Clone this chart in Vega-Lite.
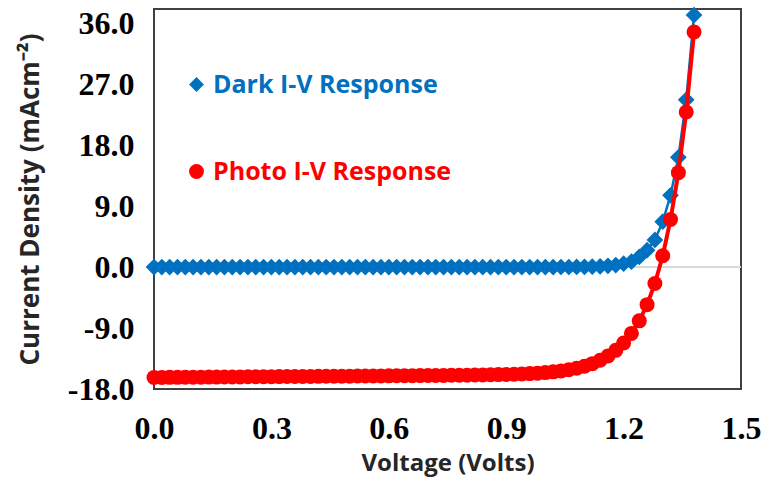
{
  "$schema": "https://vega.github.io/schema/vega-lite/v6.json",
  "autosize": {"type": "none"},
  "padding": {"left": 154, "top": 9, "right": 28, "bottom": 97},
  "width": 587,
  "height": 380,
  "background": "white",
  "config": {
    "view": {"stroke": "#404040", "strokeWidth": 2},
    "axis": {"grid": false, "ticks": false, "domain": false, "labelOverlap": false, "labelFlush": false}
  },
  "data": {"values": [
    {"v":0.00,"j":0.0,"s":"Dark I-V Response"},{"v":0.02,"j":0.0,"s":"Dark I-V Response"},{"v":0.04,"j":0.0,"s":"Dark I-V Response"},{"v":0.06,"j":0.0,"s":"Dark I-V Response"},{"v":0.08,"j":0.0,"s":"Dark I-V Response"},{"v":0.10,"j":0.0,"s":"Dark I-V Response"},{"v":0.12,"j":0.0,"s":"Dark I-V Response"},{"v":0.14,"j":0.0,"s":"Dark I-V Response"},{"v":0.16,"j":0.0,"s":"Dark I-V Response"},{"v":0.18,"j":0.0,"s":"Dark I-V Response"},
    {"v":0.20,"j":0.0,"s":"Dark I-V Response"},{"v":0.22,"j":0.0,"s":"Dark I-V Response"},{"v":0.24,"j":0.0,"s":"Dark I-V Response"},{"v":0.26,"j":0.0,"s":"Dark I-V Response"},{"v":0.28,"j":0.0,"s":"Dark I-V Response"},{"v":0.30,"j":0.0,"s":"Dark I-V Response"},{"v":0.32,"j":0.0,"s":"Dark I-V Response"},{"v":0.34,"j":0.0,"s":"Dark I-V Response"},{"v":0.36,"j":0.0,"s":"Dark I-V Response"},{"v":0.38,"j":0.0,"s":"Dark I-V Response"},
    {"v":0.40,"j":0.0,"s":"Dark I-V Response"},{"v":0.42,"j":0.0,"s":"Dark I-V Response"},{"v":0.44,"j":0.0,"s":"Dark I-V Response"},{"v":0.46,"j":0.0,"s":"Dark I-V Response"},{"v":0.48,"j":0.0,"s":"Dark I-V Response"},{"v":0.50,"j":0.0,"s":"Dark I-V Response"},{"v":0.52,"j":0.0,"s":"Dark I-V Response"},{"v":0.54,"j":0.0,"s":"Dark I-V Response"},{"v":0.56,"j":0.0,"s":"Dark I-V Response"},{"v":0.58,"j":0.0,"s":"Dark I-V Response"},
    {"v":0.60,"j":0.0,"s":"Dark I-V Response"},{"v":0.62,"j":0.0,"s":"Dark I-V Response"},{"v":0.64,"j":0.0,"s":"Dark I-V Response"},{"v":0.66,"j":0.0,"s":"Dark I-V Response"},{"v":0.68,"j":0.0,"s":"Dark I-V Response"},{"v":0.70,"j":0.0,"s":"Dark I-V Response"},{"v":0.72,"j":0.0,"s":"Dark I-V Response"},{"v":0.74,"j":0.0,"s":"Dark I-V Response"},{"v":0.76,"j":0.0,"s":"Dark I-V Response"},{"v":0.78,"j":0.0,"s":"Dark I-V Response"},
    {"v":0.80,"j":0.0,"s":"Dark I-V Response"},{"v":0.82,"j":0.0,"s":"Dark I-V Response"},{"v":0.84,"j":0.0,"s":"Dark I-V Response"},{"v":0.86,"j":0.0,"s":"Dark I-V Response"},{"v":0.88,"j":0.0,"s":"Dark I-V Response"},{"v":0.90,"j":0.0,"s":"Dark I-V Response"},{"v":0.92,"j":0.0,"s":"Dark I-V Response"},{"v":0.94,"j":0.0,"s":"Dark I-V Response"},{"v":0.96,"j":0.0,"s":"Dark I-V Response"},{"v":0.98,"j":0.0,"s":"Dark I-V Response"},
    {"v":1.00,"j":0.0,"s":"Dark I-V Response"},{"v":1.02,"j":0.0,"s":"Dark I-V Response"},{"v":1.04,"j":0.01,"s":"Dark I-V Response"},{"v":1.06,"j":0.01,"s":"Dark I-V Response"},{"v":1.08,"j":0.02,"s":"Dark I-V Response"},{"v":1.10,"j":0.03,"s":"Dark I-V Response"},{"v":1.12,"j":0.06,"s":"Dark I-V Response"},{"v":1.14,"j":0.1,"s":"Dark I-V Response"},{"v":1.16,"j":0.18,"s":"Dark I-V Response"},{"v":1.18,"j":0.3,"s":"Dark I-V Response"},
    {"v":1.20,"j":0.5,"s":"Dark I-V Response"},{"v":1.22,"j":0.8,"s":"Dark I-V Response"},{"v":1.24,"j":1.5,"s":"Dark I-V Response"},{"v":1.26,"j":2.5,"s":"Dark I-V Response"},{"v":1.28,"j":4.0,"s":"Dark I-V Response"},{"v":1.30,"j":6.7,"s":"Dark I-V Response"},{"v":1.32,"j":10.6,"s":"Dark I-V Response"},{"v":1.34,"j":16.2,"s":"Dark I-V Response"},{"v":1.36,"j":24.7,"s":"Dark I-V Response"},{"v":1.38,"j":37.2,"s":"Dark I-V Response"},
    {"v":0.00,"j":-16.30,"s":"Photo I-V Response"},{"v":0.02,"j":-16.29,"s":"Photo I-V Response"},{"v":0.04,"j":-16.28,"s":"Photo I-V Response"},{"v":0.06,"j":-16.28,"s":"Photo I-V Response"},{"v":0.08,"j":-16.27,"s":"Photo I-V Response"},{"v":0.10,"j":-16.26,"s":"Photo I-V Response"},{"v":0.12,"j":-16.25,"s":"Photo I-V Response"},{"v":0.14,"j":-16.24,"s":"Photo I-V Response"},{"v":0.16,"j":-16.24,"s":"Photo I-V Response"},{"v":0.18,"j":-16.23,"s":"Photo I-V Response"},
    {"v":0.20,"j":-16.22,"s":"Photo I-V Response"},{"v":0.22,"j":-16.21,"s":"Photo I-V Response"},{"v":0.24,"j":-16.20,"s":"Photo I-V Response"},{"v":0.26,"j":-16.20,"s":"Photo I-V Response"},{"v":0.28,"j":-16.19,"s":"Photo I-V Response"},{"v":0.30,"j":-16.18,"s":"Photo I-V Response"},{"v":0.32,"j":-16.17,"s":"Photo I-V Response"},{"v":0.34,"j":-16.16,"s":"Photo I-V Response"},{"v":0.36,"j":-16.16,"s":"Photo I-V Response"},{"v":0.38,"j":-16.15,"s":"Photo I-V Response"},
    {"v":0.40,"j":-16.14,"s":"Photo I-V Response"},{"v":0.42,"j":-16.13,"s":"Photo I-V Response"},{"v":0.44,"j":-16.12,"s":"Photo I-V Response"},{"v":0.46,"j":-16.12,"s":"Photo I-V Response"},{"v":0.48,"j":-16.11,"s":"Photo I-V Response"},{"v":0.50,"j":-16.10,"s":"Photo I-V Response"},{"v":0.52,"j":-16.09,"s":"Photo I-V Response"},{"v":0.54,"j":-16.08,"s":"Photo I-V Response"},{"v":0.56,"j":-16.08,"s":"Photo I-V Response"},{"v":0.58,"j":-16.07,"s":"Photo I-V Response"},
    {"v":0.60,"j":-16.06,"s":"Photo I-V Response"},{"v":0.62,"j":-16.05,"s":"Photo I-V Response"},{"v":0.64,"j":-16.04,"s":"Photo I-V Response"},{"v":0.66,"j":-16.03,"s":"Photo I-V Response"},{"v":0.68,"j":-16.02,"s":"Photo I-V Response"},{"v":0.70,"j":-16.01,"s":"Photo I-V Response"},{"v":0.72,"j":-16.00,"s":"Photo I-V Response"},{"v":0.74,"j":-15.99,"s":"Photo I-V Response"},{"v":0.76,"j":-15.98,"s":"Photo I-V Response"},{"v":0.78,"j":-15.97,"s":"Photo I-V Response"},
    {"v":0.80,"j":-15.96,"s":"Photo I-V Response"},{"v":0.82,"j":-15.94,"s":"Photo I-V Response"},{"v":0.84,"j":-15.92,"s":"Photo I-V Response"},{"v":0.86,"j":-15.90,"s":"Photo I-V Response"},{"v":0.88,"j":-15.87,"s":"Photo I-V Response"},{"v":0.90,"j":-15.85,"s":"Photo I-V Response"},{"v":0.92,"j":-15.82,"s":"Photo I-V Response"},{"v":0.94,"j":-15.78,"s":"Photo I-V Response"},{"v":0.96,"j":-15.73,"s":"Photo I-V Response"},{"v":0.98,"j":-15.66,"s":"Photo I-V Response"},
    {"v":1.00,"j":-15.58,"s":"Photo I-V Response"},{"v":1.02,"j":-15.47,"s":"Photo I-V Response"},{"v":1.04,"j":-15.33,"s":"Photo I-V Response"},{"v":1.06,"j":-15.16,"s":"Photo I-V Response"},{"v":1.08,"j":-14.93,"s":"Photo I-V Response"},{"v":1.10,"j":-14.64,"s":"Photo I-V Response"},{"v":1.12,"j":-14.26,"s":"Photo I-V Response"},{"v":1.14,"j":-13.76,"s":"Photo I-V Response"},{"v":1.16,"j":-13.12,"s":"Photo I-V Response"},{"v":1.18,"j":-12.29,"s":"Photo I-V Response"},
    {"v":1.20,"j":-11.20,"s":"Photo I-V Response"},{"v":1.22,"j":-9.79,"s":"Photo I-V Response"},{"v":1.24,"j":-7.94,"s":"Photo I-V Response"},{"v":1.26,"j":-5.55,"s":"Photo I-V Response"},{"v":1.28,"j":-2.42,"s":"Photo I-V Response"},{"v":1.30,"j":1.67,"s":"Photo I-V Response"},{"v":1.32,"j":7.03,"s":"Photo I-V Response"},{"v":1.34,"j":13.94,"s":"Photo I-V Response"},{"v":1.36,"j":22.9,"s":"Photo I-V Response"},{"v":1.38,"j":34.7,"s":"Photo I-V Response"}
  ]},
  "encoding": {
    "x": {"field": "v", "type": "quantitative",
      "scale": {"domain": [0, 1.5], "nice": false, "zero": false},
      "axis": {"values": [0, 0.3, 0.6, 0.9, 1.2, 1.5], "format": ".1f",
        "labelFont": "Liberation Serif", "labelFontWeight": "bold", "labelFontSize": 32, "labelColor": "#000000", "labelPadding": 24,
        "title": "Voltage (Volts)", "titleFont": "Open Sans", "titleFontWeight": "bold", "titleFontSize": 24, "titleColor": "#262626", "titlePadding": 7}},
    "y": {"field": "j", "type": "quantitative",
      "scale": {"domain": [-18, 38.1], "nice": false, "zero": false},
      "axis": {"values": [-18, -9, 0, 9, 18, 27, 36],
        "labelExpr": "replace(format(datum.value, '.1f'), '\u2212', '-')",
        "labelFont": "Liberation Serif", "labelFontWeight": "bold", "labelFontSize": 32, "labelColor": "#000000", "labelPadding": 20,
        "title": "Current Density (mAcm\u207B\u00B2)", "titleFont": "Open Sans", "titleFontWeight": "bold", "titleFontSize": 26, "titleColor": "#262626", "titlePadding": 24}},
    "color": {"field": "s", "type": "nominal",
      "scale": {"domain": ["Dark I-V Response", "Photo I-V Response"], "range": ["#0070C0", "#FF0000"]},
      "legend": {"title": null, "orient": "none", "legendX": 30, "legendY": 63, "padding": 0,
        "labelFont": "Open Sans", "labelFontWeight": "bold", "labelFontSize": 25, "labelLimit": 0,
        "labelColor": {"expr": "datum.value == 'Dark I-V Response' ? '#0070C0' : '#FF0000'"},
        "symbolSize": 220, "rowPadding": 61, "labelOffset": 4, "symbolStrokeWidth": 0}}
  },
  "layer": [
    {"mark": {"type": "rule", "color": "#D9D9D9", "strokeWidth": 2}, "encoding": {"y": {"datum": 0}, "x": null, "color": null}},
    {"transform": [{"filter": "datum.s == 'Dark I-V Response'"}], "mark": {"type": "line", "strokeWidth": 2.5}},
    {"transform": [{"filter": "datum.s == 'Dark I-V Response'"}], "mark": {"type": "point", "filled": true, "size": 280, "opacity": 1},
      "encoding": {"shape": {"field": "s", "type": "nominal", "scale": {"domain": ["Dark I-V Response", "Photo I-V Response"], "range": ["diamond", "circle"]}}}},
    {"transform": [{"filter": "datum.s == 'Photo I-V Response'"}], "mark": {"type": "line", "strokeWidth": 4}},
    {"transform": [{"filter": "datum.s == 'Photo I-V Response'"}], "mark": {"type": "point", "filled": true, "size": 225, "opacity": 1},
      "encoding": {"shape": {"field": "s", "type": "nominal", "scale": {"domain": ["Dark I-V Response", "Photo I-V Response"], "range": ["diamond", "circle"]}}}}
  ]
}
